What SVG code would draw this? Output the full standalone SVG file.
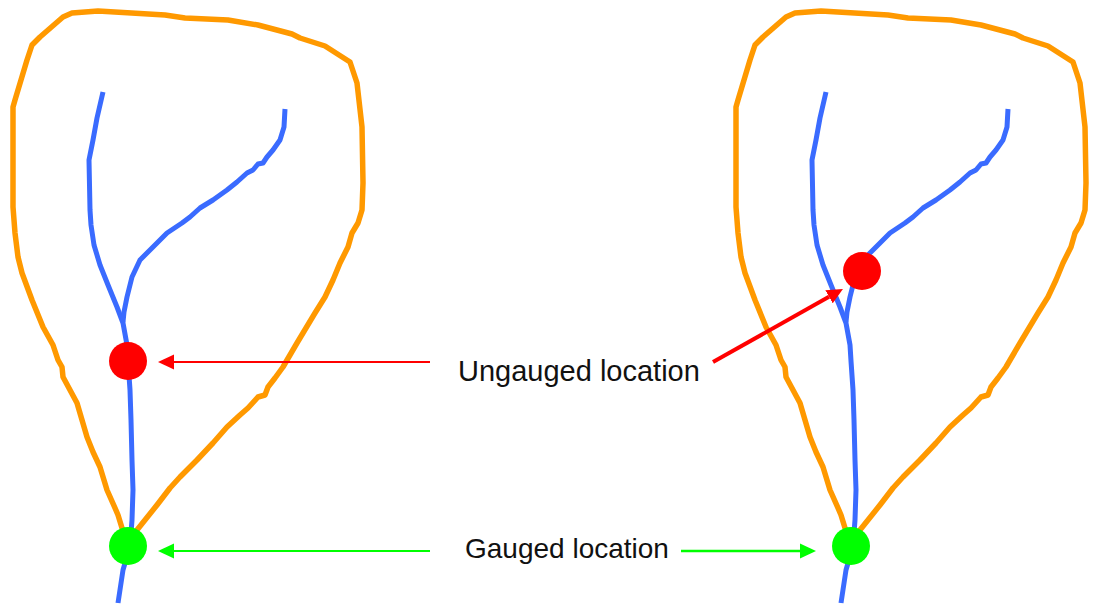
<svg xmlns="http://www.w3.org/2000/svg" xmlns:xlink="http://www.w3.org/1999/xlink" width="1095" height="608" viewBox="0 0 1095 608">
  <style>
    .outline { fill: none; stroke: #FF9900; stroke-width: 5.5; stroke-linejoin: round; stroke-linecap: round; }
    .stream { fill: none; stroke: #3A6BFF; stroke-width: 5; stroke-linejoin: round; stroke-linecap: butt; }
    .ungauged { fill: #FF0000; }
    .gauged { fill: #00FF00; }
    .label { font-family: "Liberation Sans", Arial, Helvetica, sans-serif; fill: #111111; }
    .lead-red { stroke: #FF0000; fill: none; }
    .lead-green { stroke: #00FF00; fill: none; }
  </style>
  <defs>
    <marker id="head-red" markerUnits="userSpaceOnUse" viewBox="0 0 16 16" refX="0" refY="8" markerWidth="16" markerHeight="16" orient="auto">
      <path d="M0,0.5 L16,8 L0,15.5 z" fill="#FF0000"/>
    </marker>
    <marker id="head-green" markerUnits="userSpaceOnUse" viewBox="0 0 16 16" refX="0" refY="8" markerWidth="16" markerHeight="16" orient="auto">
      <path d="M0,0.5 L16,8 L0,15.5 z" fill="#00FF00"/>
    </marker>

    <!-- catchment boundary, traced from the outlet up the west side and back down the east side -->
    <polyline id="basin-outline" class="outline" points="122,528 118,515 115,508 107,490 100,467 93,452 87,437 82,420 77,403 70,390 63,377 62,367 58,360 53,345 43,327 32,300 22,273 18,257 15,233 13,207 13,107 15,100 21,80 27,60 32,45 40,37 63,17 72,13 98,11 165,15 185,18 228,20 258,25 292,34 300,38 325,46 350,62 357,83 362,127 363,183 362,210 358,223 352,233 348,247 340,263 333,280 325,297 315,313 297,343 283,367 275,378 268,387 265,395 258,397 248,408 240,415 227,427 213,443 197,460 180,477 170,488 157,505 137,530"/>

    <!-- main channel -->
    <polyline id="stream-main" class="stream" points="103,92 97,118 93,140 89,160 90,210 91,225 94,245 100,265 108,285 117,307 123,323 127,345 128,361 130,390 131,420 132,460 133,490 132,520 130,546 123,570 118,603"/>

    <!-- eastern tributary -->
    <polyline id="stream-trib" class="stream" points="285,109 284,127 280,140 273,150 267,157 263,163 258,164 253,170 247,173 237,182 227,190 213,200 200,208 190,217 182,223 167,233 153,247 140,260 132,277 127,297 124,312 123,322"/>
  </defs>

  <!-- left catchment -->
  <g id="catchment-left">
    <use xlink:href="#basin-outline"/>
    <use xlink:href="#stream-main"/>
    <use xlink:href="#stream-trib"/>
  </g>

  <!-- right catchment -->
  <g id="catchment-right" transform="translate(723,0)">
    <use xlink:href="#basin-outline"/>
    <use xlink:href="#stream-main"/>
    <use xlink:href="#stream-trib"/>
  </g>

  <!-- connectors -->
  <g id="connectors">
    <line class="lead-red" x1="430" y1="362" x2="174" y2="362" stroke-width="2" marker-end="url(#head-red)"/>
    <line class="lead-red" x1="713" y1="362" x2="829" y2="296.8" stroke-width="4" marker-end="url(#head-red)"/>
    <line class="lead-green" x1="430" y1="551" x2="174" y2="551" stroke-width="2" marker-end="url(#head-green)"/>
    <line class="lead-green" x1="681" y1="551" x2="800" y2="551" stroke-width="2.5" marker-end="url(#head-green)"/>
  </g>

  <!-- sites -->
  <g id="ungauged-left"><circle class="ungauged" cx="128" cy="361" r="19"/></g>
  <g id="gauged-left"><circle class="gauged" cx="128" cy="546" r="19"/></g>
  <g id="ungauged-right"><circle class="ungauged" cx="862" cy="271" r="19"/></g>
  <g id="gauged-right"><circle class="gauged" cx="851" cy="546" r="19"/></g>

  <!-- labels -->
  <g id="label-ungauged"><text class="label" x="458" y="381" font-size="29">Ungauged location</text></g>
  <g id="label-gauged"><text class="label" x="465" y="558" font-size="28">Gauged location</text></g>
</svg>
